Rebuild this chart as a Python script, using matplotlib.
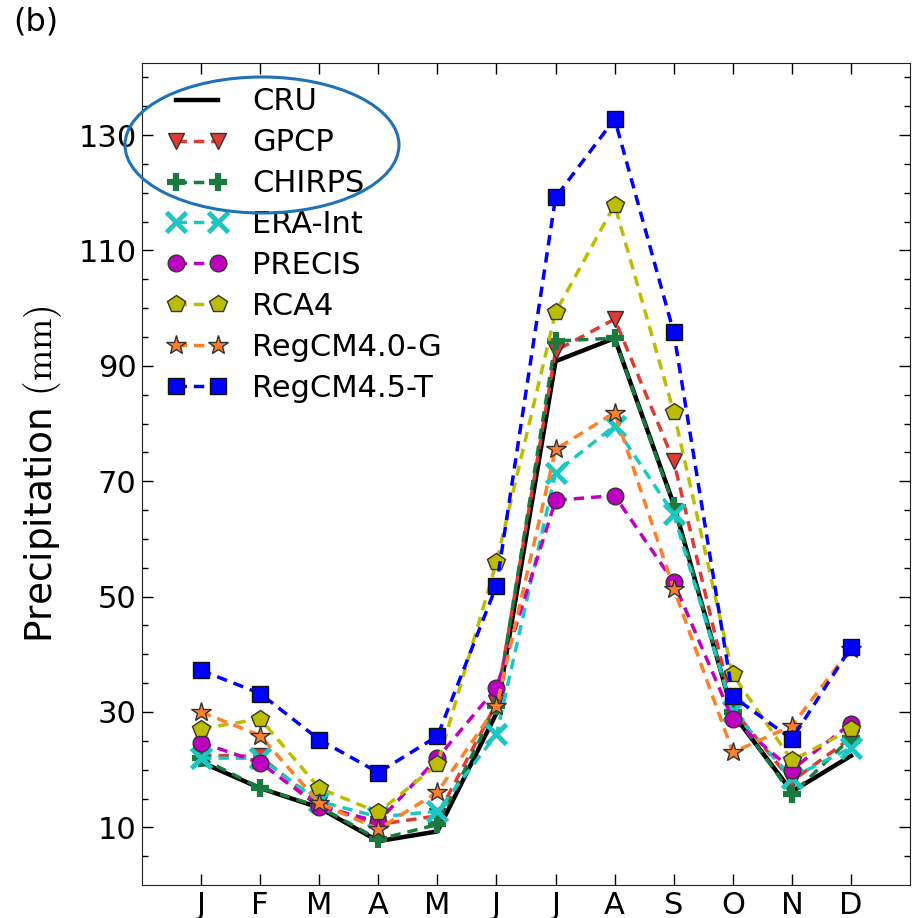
import numpy as np
import matplotlib
matplotlib.use("Agg")
import matplotlib.pyplot as plt
from matplotlib.patches import Ellipse

plt.rcParams['mathtext.fontset'] = 'cm'
plt.rcParams['font.family'] = ['DejaVu Sans']

months = ["J", "F", "M", "A", "M", "J", "J", "A", "S", "O", "N", "D"]

# monthly mean precipitation (mm)
cru = [21.3, 16.8, 13.4, 7.6, 9.3, 29.8, 90.8, 94.8, 66.0, 29.7, 16.2, 22.4]
gpcp = [22.5, 22.3, 14.0, 10.5, 12.0, 31.5, 92.6, 98.1, 73.5, 30.5, 18.0, 25.5]
chirps = [22.0, 16.8, 13.6, 7.9, 10.5, 31.0, 94.3, 94.8, 65.7, 30.0, 15.7, 25.5]
era_int = [22.0, 22.0, 14.5, 11.8, 12.8, 26.1, 71.5, 79.6, 64.3, 30.1, 18.6, 23.8]
precis = [24.7, 21.2, 13.6, 11.0, 22.0, 34.2, 66.7, 67.5, 52.5, 28.7, 20.0, 28.0]
rca4 = [27.1, 28.8, 16.8, 12.6, 20.9, 56.0, 99.3, 117.9, 82.0, 36.5, 21.6, 27.0]
regcm40 = [30.0, 25.9, 14.2, 9.7, 16.1, 31.0, 75.5, 81.9, 51.4, 23.0, 27.6, 41.0]
regcm45 = [37.2, 33.2, 25.2, 19.5, 25.8, 51.9, 119.2, 132.8, 95.8, 32.7, 25.3, 41.2]

x = np.arange(1, 13)
dash = (0, (3, 2))

fig = plt.figure(figsize=(9.17, 9.18), dpi=100)
ax = fig.add_axes([0.1549, 0.0359, 0.8375, 0.8955])

ax.plot(x, cru, color='black', lw=3.2, label='CRU')
ax.plot(x, gpcp, color='#dd3b33', ls=dash, lw=2.5, marker='v', ms=12,
        mec='#333333', mew=1, label='GPCP')
ax.plot(x, chirps, color='#1b7a40', ls=dash, lw=2.5, marker='+', ms=13,
        mew=4.5, label='CHIRPS')
ax.plot(x, era_int, color='#1cc6c2', ls=dash, lw=2.5, marker='x', ms=14,
        mew=3.5, label='ERA-Int')
ax.plot(x, precis, color='#c000c0', ls=dash, lw=2.5, marker='o', ms=12,
        mec='#333333', mew=1, label='PRECIS')
ax.plot(x, rca4, color='#bdbd00', ls=dash, lw=2.5, marker='p', ms=13,
        mec='#333333', mew=1, label='RCA4')
ax.plot(x, regcm40, color='#ff7f2a', ls=dash, lw=2.5, marker='*', ms=15,
        mec='#333333', mew=1, label='RegCM4.0-G')
ax.plot(x, regcm45, color='#0000ff', ls=dash, lw=2.5, marker='s', ms=12,
        mec='#111111', mew=1, label='RegCM4.5-T')

ax.set_xlim(0, 13)
ax.set_ylim(0, 142.5)
ax.set_xticks(x)
ax.set_xticklabels(months)
ax.set_yticks(np.arange(10, 131, 20))
ax.set_yticks(np.arange(5, 141, 5), minor=True)
ax.tick_params(which='both', direction='in', top=True, right=True,
               labelsize=22, width=1)
ax.tick_params(which='major', length=8, pad=4)
ax.tick_params(which='minor', length=4)
for sp in ax.spines.values():
    sp.set_color('#222222')

ax.set_ylabel(r'Precipitation $\mathrm{(mm)}$', fontsize=27, labelpad=10)

ax.legend(loc='upper left', frameon=False, numpoints=2, fontsize=22,
          handlelength=2.0, handletextpad=0.8, labelspacing=0.39,
          borderaxespad=0.3, borderpad=0.5)

# highlight around the observational datasets
ring = Ellipse((262 / 917, 1 - 145 / 918), 274 / 917, 136 / 918,
               transform=fig.transFigure, fill=False, ec='#1f72b8', lw=2.2)
fig.add_artist(ring)

fig.text(0.014, 1 - 22 / 918, '(b)', fontsize=23, va='center', ha='left')

plt.savefig('out.png', dpi=100)
